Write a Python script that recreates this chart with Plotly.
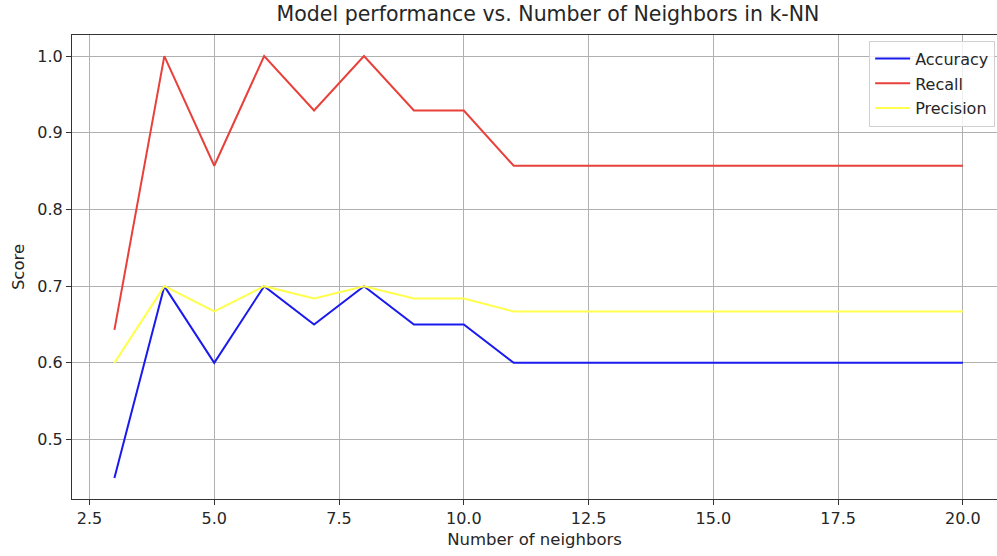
import plotly.graph_objects as go

neighbors = list(range(3, 21))
accuracy = [0.45, 0.70, 0.60, 0.70, 0.65, 0.70, 0.65, 0.65] + [0.60] * 10
recall = [0.643, 1.0, 0.857, 1.0, 0.929, 1.0, 0.929, 0.929] + [0.857] * 10
precision = [0.60, 0.70, 0.667, 0.70, 0.684, 0.70, 0.684, 0.684] + [0.667] * 10

x_ticks = [2.5, 5.0, 7.5, 10.0, 12.5, 15.0, 17.5, 20.0]
y_ticks = [0.5, 0.6, 0.7, 0.8, 0.9, 1.0]

FONT = "DejaVu Sans"
fig = go.Figure()
fig.add_trace(go.Scatter(x=neighbors, y=accuracy, mode="lines", name="Accuracy",
                         legendgroup="a", line=dict(color="#1a1aee", width=2)))
fig.add_trace(go.Scatter(x=neighbors, y=recall, mode="lines", name="Recall",
                         legendgroup="r", line=dict(color="#e8403a", width=2)))
fig.add_trace(go.Scatter(x=neighbors, y=precision, mode="lines", name="Precision",
                         legendgroup="p", line=dict(color="#ffff4d", width=2)))

fig.update_layout(
    width=997, height=556,
    margin=dict(l=72, r=0, t=35, b=57, autoexpand=False),
    paper_bgcolor="white", plot_bgcolor="white",
    font=dict(family=FONT, size=16, color="#262626"),
    title=dict(text="Model performance vs. Number of Neighbors in k-NN",
               x=548/997, xanchor="center", y=1 - 14/556, yanchor="middle",
               font=dict(size=20.5, color="#262626")),
    showlegend=True,
    legend=dict(x=0.998, xanchor="right", y=0.988, yanchor="top",
                bgcolor="rgba(255,255,255,0.8)", bordercolor="#d0d0d0", borderwidth=1,
                font=dict(size=16, color="#262626"), tracegroupgap=1,
                itemwidth=35),
)
fig.update_xaxes(
    range=[2.15, 20 + (997 - 963.3) / 49.33],
    tickvals=x_ticks, ticktext=[f"{v:.1f}" for v in x_ticks],
    showgrid=True, gridcolor="#b0b0b0", gridwidth=1,
    showline=True, linecolor="#333333", linewidth=1.2, mirror=True,
    ticks="outside", ticklen=5, tickcolor="#333333",
    tickfont=dict(size=16),
    zeroline=False,
    title=dict(text="Number of neighbors", font=dict(size=16.5), standoff=6),
)
fig.update_yaxes(
    range=[0.4225, 1.0275],
    tickvals=y_ticks, ticktext=[f"{v:.1f}" for v in y_ticks],
    showgrid=True, gridcolor="#b0b0b0", gridwidth=1,
    showline=True, linecolor="#333333", linewidth=1.2, mirror=True,
    ticks="outside", ticklen=5, tickcolor="#333333",
    tickfont=dict(size=16),
    zeroline=False,
    title=dict(text="Score", font=dict(size=16.5), standoff=8),
)
fig.write_html("out.html", config={"displayModeBar": False},
               post_script="document.body.style.margin='0';")
